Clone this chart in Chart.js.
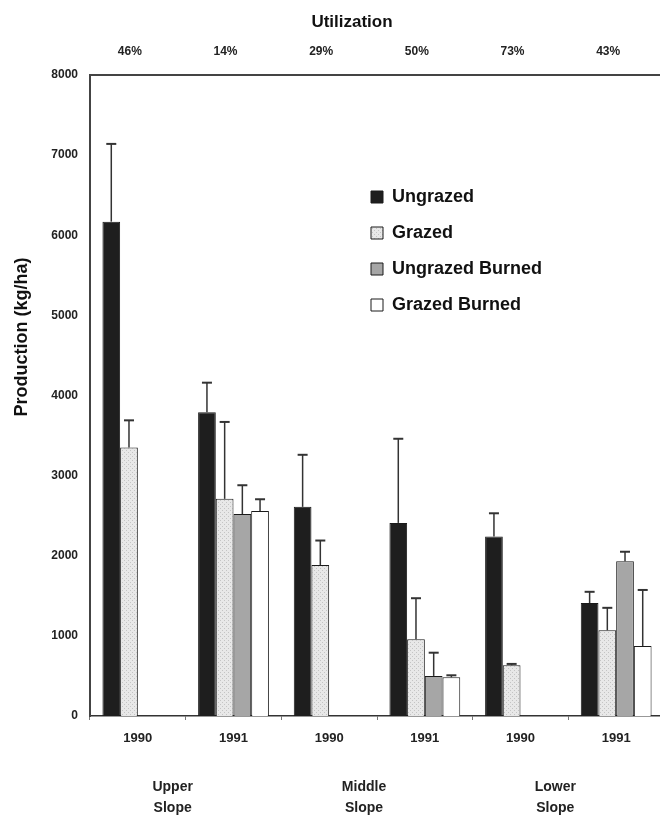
<!DOCTYPE html>
<html><head><meta charset="utf-8">
<script src="https://cdn.jsdelivr.net/npm/chart.js@4.4.0/dist/chart.umd.min.js"></script>
<style>html,body{margin:0;padding:0;background:#fff;overflow:hidden;}</style>
</head><body>
<canvas id="c" width="680" height="821"></canvas>
<script>
// ---- data ----
const years = ['1990', '1991', '1990', '1991', '1990', '1991'];
const utilization = ['46%', '14%', '29%', '50%', '73%', '43%'];
const slopes = [['Upper', 'Slope'], ['Middle', 'Slope'], ['Lower', 'Slope']];
const seriesNames = ['Ungrazed', 'Grazed', 'Ungrazed Burned', 'Grazed Burned'];
const ungrazed = [6170, 3790, 2610, 2410, 2240, 1410];
const ungrazedErr = [7140, 4160, 3260, 3460, 2530, 1550];
const grazed = [3350, 2710, 1885, 957, 633, 1070];
const grazedErr = [3690, 3670, 2190, 1470, 650, 1350];
const ungrazedBurned = [null, 2520, null, 500, null, 1930];
const ungrazedBurnedErr = [null, 2880, null, 790, null, 2050];
const grazedBurned = [null, 2560, null, 483, null, 874];
const grazedBurnedErr = [null, 2705, null, 508, null, 1573];
const yTicks = [0, 1000, 2000, 3000, 4000, 5000, 6000, 7000, 8000];

const FONT = '"Liberation Sans", Arial, Helvetica, sans-serif';

// light stippled fill for the "Grazed" series
function stipple() {
  const p = document.createElement('canvas');
  p.width = 4; p.height = 4;
  const g = p.getContext('2d');
  g.fillStyle = '#e8e8e8';
  g.fillRect(0, 0, 4, 4);
  g.fillStyle = '#c4c4c4';
  g.fillRect(0, 0, 1, 1);
  g.fillRect(2, 2, 1, 1);
  return g.createPattern(p, 'repeat');
}

const errorBars = {
  id: 'errorBars',
  afterDatasetsDraw(chart) {
    const ctx = chart.ctx, ys = chart.scales.y;
    chart.data.datasets.forEach((ds, di) => {
      const meta = chart.getDatasetMeta(di);
      meta.data.forEach((bar, i) => {
        const hi = ds.errorHigh[i];
        if (hi == null || ds.data[i] == null) return;
        const yTop = ys.getPixelForValue(hi);
        ctx.save();
        ctx.strokeStyle = '#333';
        ctx.lineWidth = 1.5;
        ctx.beginPath();
        ctx.moveTo(bar.x, bar.y);
        ctx.lineTo(bar.x, yTop);
        ctx.stroke();
        ctx.lineWidth = 2;
        ctx.beginPath();
        ctx.moveTo(bar.x - 5, yTop);
        ctx.lineTo(bar.x + 5, yTop);
        ctx.stroke();
        ctx.restore();
      });
    });
  }
};

const legendPlace = {
  id: 'legendPlace',
  afterLayout(chart) {
    const a = chart.chartArea, lg = chart.legend;
    lg.left = a.left + 263;
    lg.top = a.top + 95;
  }
};

const titles = {
  id: 'titles',
  afterDraw(chart) {
    const ctx = chart.ctx, a = chart.chartArea;
    ctx.save();
    ctx.fillStyle = '#111';
    ctx.textAlign = 'center';
    ctx.textBaseline = 'middle';
    ctx.font = 'bold 17px ' + FONT;
    ctx.fillText('Utilization', a.left + 262, a.top - 53);
    ctx.font = 'bold 18px ' + FONT;
    ctx.translate(a.left - 68, a.top + 262);
    ctx.rotate(-Math.PI / 2);
    ctx.fillText('Production (kg/ha)', 0, 0);
    ctx.restore();
  }
};

const mk = (label, data, err, color) => ({
  label, data, errorHigh: err,
  backgroundColor: color, borderColor: '#1a1a1a', borderWidth: 1,
  categoryPercentage: 0.74, barPercentage: 1.0
});

new Chart(document.getElementById('c'), {
  type: 'bar',
  data: {
    labels: years,
    datasets: [
      mk(seriesNames[0], ungrazed, ungrazedErr, '#1e1e1e'),
      mk(seriesNames[1], grazed, grazedErr, stipple()),
      mk(seriesNames[2], ungrazedBurned, ungrazedBurnedErr, '#a6a6a6'),
      mk(seriesNames[3], grazedBurned, grazedBurnedErr, '#ffffff')
    ]
  },
  options: {
    responsive: false,
    animation: false,
    layout: { padding: { left: 40, right: 16, top: 0, bottom: 0 } },
    plugins: {
      tooltip: { enabled: false },
      title: { display: false },
      legend: {
        position: 'chartArea',
        align: 'start',
        labels: {
          boxWidth: 12, boxHeight: 12, padding: 18,
          color: '#111',
          font: { family: FONT, size: 18, weight: 'bold' }
        }
      }
    },
    scales: {
      x: {
        type: 'category',
        position: 'bottom',
        weight: 0,
        offset: true,
        grid: { display: true, drawOnChartArea: false, offset: true, tickLength: 4, color: '#777' },
        border: { display: true, color: '#333', width: 1.5 },
        ticks: { color: '#222', padding: 11, font: { family: FONT, size: 13, weight: 'bold' } },
        afterFit(s) { s.height = 30; }
      },
      xSlope: {
        type: 'category',
        labels: slopes,
        position: 'bottom',
        weight: 1,
        offset: true,
        grid: { display: false, drawTicks: false },
        border: { display: false },
        ticks: { color: '#222', padding: 31, labelOffset: -13, font: { family: FONT, size: 14, weight: 'bold', lineHeight: 1.5 } },
        afterFit(s) { s.height = 75; }
      },
      xTop: {
        type: 'category',
        labels: utilization,
        position: 'top',
        offset: true,
        grid: { display: false, drawTicks: false },
        border: { display: true, color: '#444', width: 2 },
        ticks: { color: '#222', padding: 16, labelOffset: -8, font: { family: FONT, size: 12, weight: 'bold' } },
        afterFit(s) { s.height = 75; }
      },
      y: {
        min: yTicks[0],
        max: yTicks[yTicks.length - 1],
        afterBuildTicks(s) { s.ticks = yTicks.map(v => ({ value: v })); },
        grid: { display: false, drawTicks: false },
        border: { display: true, color: '#444', width: 2 },
        ticks: { color: '#222', padding: 12, font: { family: FONT, size: 12, weight: 'bold' },
                 callback: (v) => String(v) },
        afterFit(s) { s.width = 50; }
      }
    }
  },
  plugins: [errorBars, legendPlace, titles]
});
</script>
</body></html>
